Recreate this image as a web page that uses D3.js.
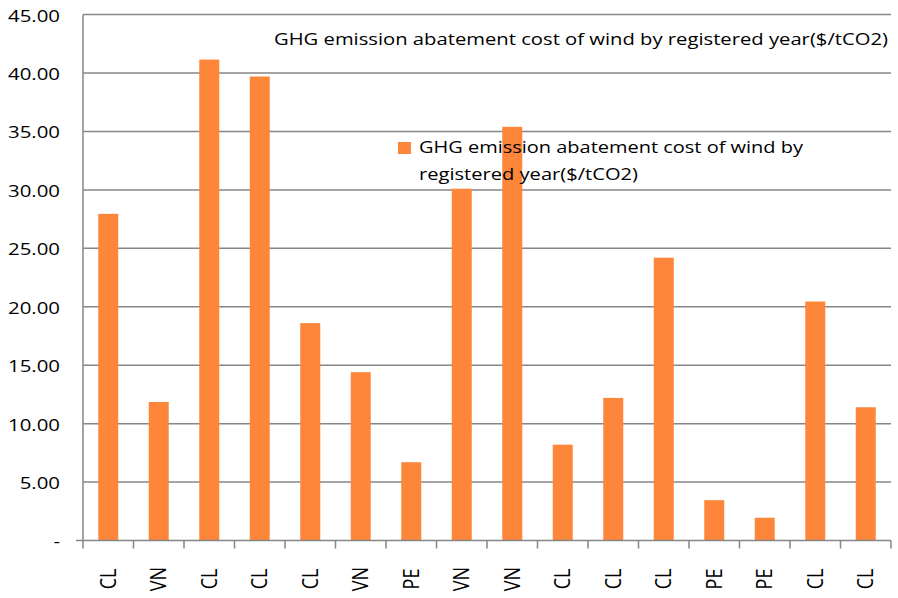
<!DOCTYPE html>
<html>
<head>
<meta charset="utf-8">
<script src="https://cdn.jsdelivr.net/npm/d3@7/dist/d3.min.js"></script>
<style>
  html, body { margin: 0; padding: 0; background: #fff; }
  svg { display: block; }
  text { font-family: "Open Sans", sans-serif; fill: #000; }
</style>
</head>
<body>
<svg id="chart" width="898" height="598"></svg>
<script>
const categories = ["CL","VN","CL","CL","CL","VN","PE","VN","VN","CL","CL","CL","PE","PE","CL","CL"];
const values = [27.95, 11.85, 41.15, 39.7, 18.6, 14.4, 6.7, 30.1, 35.4, 8.2, 12.2, 24.2, 3.45, 1.95, 20.45, 11.4];
const yTicks = [0, 5, 10, 15, 20, 25, 30, 35, 40, 45];
const seriesName = "GHG emission abatement cost of wind by registered year($/tCO2)";
const legendLines = ["GHG emission abatement cost of wind by", "registered year($/tCO2)"];

(function () {
const S = 1.2;               // horizontal stretch of the reference
const W = 898, H = 598;
const VW = W / S;
const fx = v => v / S;       // reference px -> view units

const svg = d3.select("#chart")
  .attr("viewBox", `0 0 ${VW} ${H}`)
  .attr("preserveAspectRatio", "none");

const pLeft = 83, pRight = 891, pTop = 14.6, pBottom = 540.5;
const pIn = 1 - 20 / 50.5;

const x = d3.scaleBand()
  .domain(d3.range(categories.length))
  .range([fx(pLeft), fx(pRight)])
  .paddingInner(pIn)
  .paddingOuter(pIn / 2);

const y = d3.scaleLinear().domain([0, 45]).range([pBottom, pTop]);

const gridColor = "#868686";

// gridlines
svg.append("g")
  .selectAll("line")
  .data(yTicks.filter(d => d > 0))
  .join("line")
  .attr("x1", fx(pLeft)).attr("x2", fx(pRight))
  .attr("y1", d => y(d)).attr("y2", d => y(d))
  .attr("stroke", gridColor).attr("stroke-width", 1.5);

// y axis line
svg.append("line")
  .attr("x1", fx(pLeft)).attr("x2", fx(pLeft))
  .attr("y1", y(45)).attr("y2", y(0))
  .attr("stroke", gridColor).attr("stroke-width", 1.5 / S);

// y labels
svg.append("g")
  .selectAll("text")
  .data(yTicks)
  .join("text")
  .attr("x", fx(60))
  .attr("y", d => y(d) + 7)
  .attr("text-anchor", "end")
  .attr("font-size", 17)
  .text(d => d === 0 ? "-" : d3.format(".2f")(d));

// bars
svg.append("g")
  .selectAll("rect")
  .data(values)
  .join("rect")
  .attr("x", (d, i) => x(i))
  .attr("width", x.bandwidth())
  .attr("y", d => y(d))
  .attr("height", d => y(0) - y(d))
  .attr("fill", "#fd863a");

// x axis line
svg.append("line")
  .attr("x1", fx(76)).attr("x2", fx(pRight))
  .attr("y1", y(0)).attr("y2", y(0))
  .attr("stroke", gridColor).attr("stroke-width", 1.5);

// x ticks at band boundaries
const step = x.step();
const bounds = d3.range(categories.length + 1).map(i => fx(pLeft) + i * step);
svg.append("g")
  .selectAll("line")
  .data(bounds)
  .join("line")
  .attr("x1", d => d).attr("x2", d => d)
  .attr("y1", y(0)).attr("y2", y(0) + 8)
  .attr("stroke", gridColor).attr("stroke-width", 1.5 / S);

// x labels
svg.append("g")
  .selectAll("text")
  .data(categories)
  .join("text")
  .attr("transform", (d, i) => `translate(${x(i) + x.bandwidth() / 2 + 6.3},579) rotate(-90)`)
  .attr("text-anchor", "middle")
  .attr("font-size", 18)
  .text(d => d);

// title
svg.append("text")
  .attr("x", fx(274)).attr("y", 45)
  .attr("font-size", 17)
  .attr("textLength", fx(614))
  .attr("lengthAdjust", "spacingAndGlyphs")
  .text(seriesName);

// legend
svg.append("rect")
  .attr("x", fx(398)).attr("y", 142)
  .attr("width", fx(13)).attr("height", 12)
  .attr("fill", "#fd863a");
const legendWidths = [384, 219];
svg.append("g")
  .selectAll("text")
  .data(legendLines)
  .join("text")
  .attr("x", fx(419))
  .attr("y", (d, i) => 153 + i * 27)
  .attr("font-size", 17)
  .attr("textLength", (d, i) => fx(legendWidths[i]))
  .attr("lengthAdjust", "spacingAndGlyphs")
  .text(d => d);
})();
</script>
</body>
</html>
